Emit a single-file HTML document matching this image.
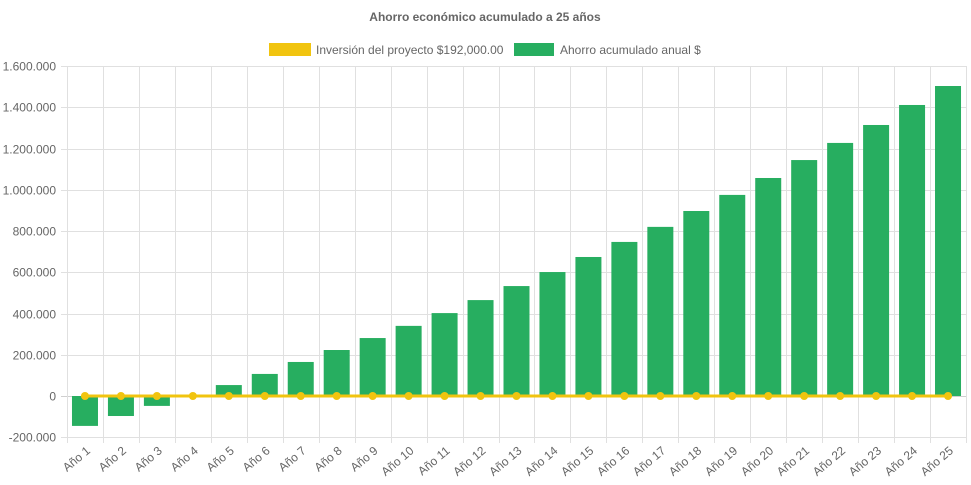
<!DOCTYPE html>
<html><head><meta charset="utf-8"><style>
body{margin:0;background:#fff}
svg{display:block;font-family:"Liberation Sans",Arial,sans-serif}
</style></head><body>
<svg width="971" height="485" viewBox="0 0 971 485">
<text x="485" y="21" text-anchor="middle" font-size="12" font-weight="bold" fill="#666">Ahorro económico acumulado a 25 años</text>
<rect x="269" y="43" width="42" height="13" fill="#f1c40f"/>
<text x="316" y="54" font-size="12" fill="#666">Inversión del proyecto $192,000.00</text>
<rect x="514" y="43" width="40" height="13" fill="#27ae60"/>
<text x="560" y="54" font-size="12" fill="#666">Ahorro acumulado anual $</text>
<g id="grid" stroke="#e0e0e0" stroke-width="1"></g>
<g id="bars"></g>
<g id="ylab" font-size="12" fill="#666" text-anchor="end"></g>
<g id="xlab" font-size="12" fill="#666" text-anchor="end"></g>
<script>
var ns="http://www.w3.org/2000/svg";
function el(p,t,a,txt){var e=document.createElementNS(ns,t);for(var k in a)e.setAttribute(k,a[k]);if(txt!=null)e.textContent=txt;document.getElementById(p).appendChild(e);return e;}
var x0=67,x1=966,cw=(x1-x0)/25,y0=396,k=330/1600000;
function Y(v){return y0-v*k;}
var labs=["-200.000","0","200.000","400.000","600.000","800.000","1.000.000","1.200.000","1.400.000","1.600.000"];
for(var i=0;i<10;i++){var v=-200000+i*200000,y=Math.round(Y(v))+0.5;
el("grid","line",{x1:x0-6,x2:x1,y1:y,y2:y,stroke:(v==0?"#cfcfcf":"#e0e0e0")});
el("ylab","text",{x:56,y:y+4},labs[i]);}
for(var i=0;i<=25;i++){var x=Math.round(x0+i*cw)+0.5;el("grid","line",{x1:x,x2:x,y1:66,y2:443});}
var d=[-145,-97,-48,0,53,107,165,223,281,340,402,465,533,601,674,747,820,897,975,1057,1144,1227,1314,1411,1503];
for(var i=0;i<25;i++){var c=x0+cw*(i+0.5),v=d[i]*1000;
if(v!=0){var a=Y(v),b=y0;el("bars","rect",{x:c-13,y:Math.min(a,b),width:26,height:Math.abs(a-b),fill:"#27ae60"});}
el("xlab","text",{x:c+6,y:452,transform:"rotate(-40 "+(c+6)+" 452)"},"Año "+(i+1));}
el("bars","line",{x1:x0+cw/2,x2:x1-cw/2,y1:396,y2:396,stroke:"#f1c40f","stroke-width":3});
for(var i=0;i<25;i++){var c=x0+cw*(i+0.5);el("bars","circle",{cx:c,cy:396,r:4,fill:"#f1c40f"});}
</script>
</svg>
</body></html>
